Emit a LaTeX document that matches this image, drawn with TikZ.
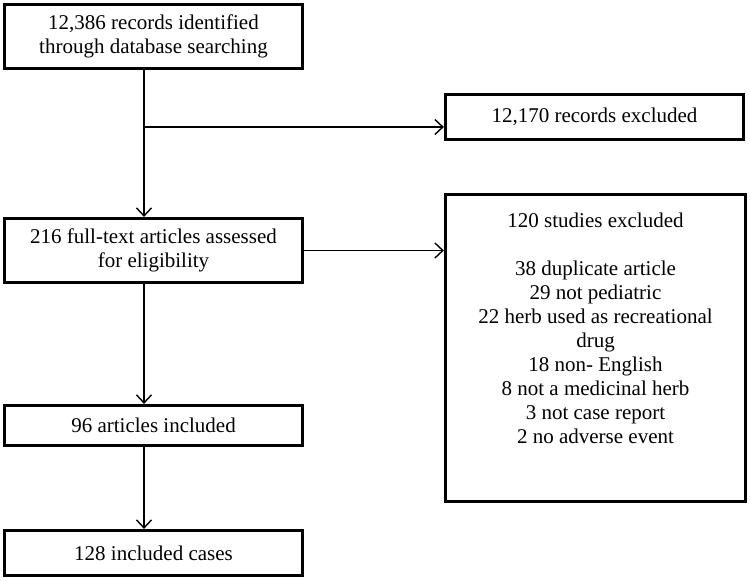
\documentclass[tikz,border=0pt]{standalone}
\usepackage{fontspec}
\setmainfont{Liberation Serif}
\usetikzlibrary{arrows.meta,positioning}

\begin{document}
\begin{tikzpicture}[x=1pt, y=-1pt,
  box/.style={rectangle, draw, line width=3.2pt, minimum width=298pt, text centered, align=center, font=\fontsize{21}{24}\selectfont},
  arrow/.style={-{Straight Barb[length=8pt,width=15pt]}, line width=1.4pt}
]
  \useasboundingbox (0,0) rectangle (750,581);

  \node[box, minimum height=64pt] (search) at (153.5,36.5) {12,386 records identified\\through database searching};
  \node[box, minimum height=45pt] (recexcl) at (594.5,117) {12,170 records excluded};
  \node[box, minimum height=64pt] (fulltext) at (153.5,250.5) {216 full-text articles assessed\\for eligibility};
  \node[box, minimum width=300pt, minimum height=307pt, inner sep=0pt] (studyexcl) at (595.5,348)
    {\parbox[c][270pt][t]{296pt}{\centering
      120 studies excluded\\[24pt]
      38 duplicate article\\
      29 not pediatric\\
      22 herb used as recreational\\
      drug\\
      18 non- English\\
      8 not a medicinal herb\\
      3 not case report\\
      2 no adverse event\par}};
  \node[box, minimum height=40pt] (articles) at (153.5,425.5) {96 articles included};
  \node[box, minimum height=45pt] (cases) at (153.5,553) {128 included cases};

  % main flow, slightly left of the box centres
  \coordinate (split) at (144,127);
  \draw[arrow] (search.south -| split) -- (fulltext.north -| split);
  \draw[arrow] (split) -- (split -| recexcl.west);
  \draw[arrow] (fulltext.east) -- (fulltext.east -| studyexcl.west);
  \draw[arrow] (fulltext.south -| split) -- (articles.north -| split);
  \draw[arrow] (articles.south -| split) -- (cases.north -| split);
\end{tikzpicture}
\end{document}
